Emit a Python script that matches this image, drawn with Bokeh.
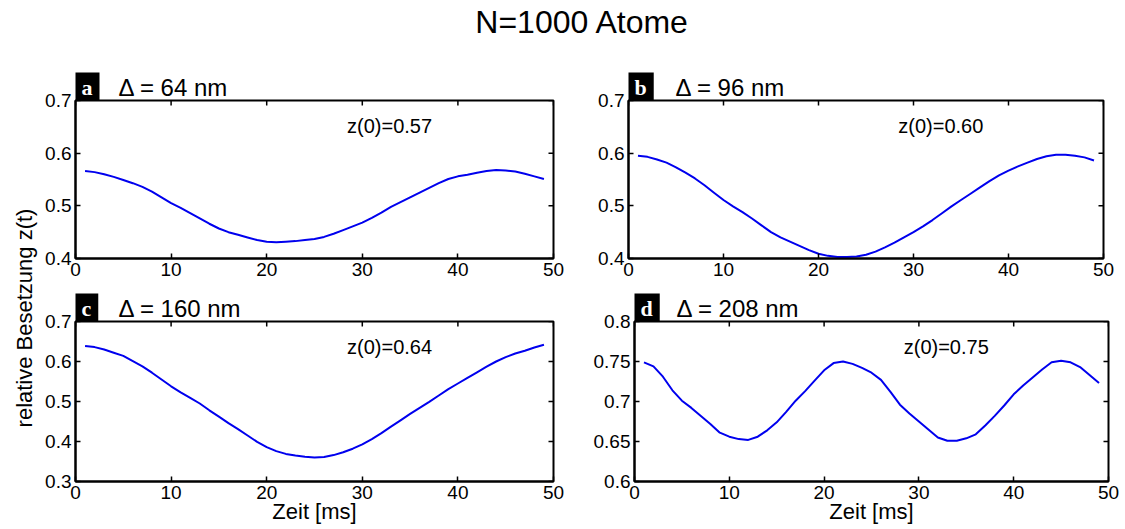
import math
from bokeh.plotting import figure
from bokeh.models import Range1d, FixedTicker, Label, ColumnDataSource
from bokeh.layouts import row, column
from bokeh.embed import file_html
from bokeh.resources import INLINE

title_text = "N=1000 Atome"
ylabel_text = "relative Besetzung z(t)"
xlabel_text = "Zeit [ms]"

t_ms = list(range(1, 50))

z_a = [0.566, 0.564, 0.560, 0.555, 0.549, 0.543, 0.536, 0.527, 0.516, 0.505,
       0.496, 0.486, 0.476, 0.466, 0.457, 0.450, 0.445, 0.440, 0.435, 0.432,
       0.431, 0.432, 0.433, 0.435, 0.437, 0.441, 0.447, 0.454, 0.461, 0.468,
       0.477, 0.487, 0.498, 0.507, 0.516, 0.525, 0.534, 0.543, 0.551, 0.556,
       0.559, 0.563, 0.566, 0.568, 0.567, 0.565, 0.561, 0.556, 0.551]

z_b = [0.595, 0.593, 0.588, 0.582, 0.573, 0.563, 0.552, 0.539, 0.525, 0.511,
       0.499, 0.488, 0.476, 0.463, 0.450, 0.440, 0.432, 0.424, 0.416, 0.409,
       0.405, 0.403, 0.403, 0.404, 0.407, 0.413, 0.421, 0.430, 0.440, 0.450,
       0.461, 0.473, 0.486, 0.499, 0.511, 0.523, 0.535, 0.547, 0.558, 0.567,
       0.575, 0.582, 0.589, 0.594, 0.597, 0.597, 0.595, 0.592, 0.586]

z_c = [0.639, 0.636, 0.630, 0.622, 0.614, 0.601, 0.588, 0.572, 0.555, 0.538,
       0.523, 0.509, 0.495, 0.478, 0.462, 0.446, 0.431, 0.415, 0.399, 0.386,
       0.376, 0.369, 0.365, 0.362, 0.360, 0.361, 0.366, 0.373, 0.382, 0.393,
       0.406, 0.421, 0.437, 0.453, 0.469, 0.484, 0.499, 0.515, 0.531, 0.545,
       0.559, 0.573, 0.587, 0.600, 0.611, 0.620, 0.627, 0.635, 0.642]

z_d = [0.749, 0.744, 0.731, 0.714, 0.701, 0.692, 0.682, 0.672, 0.661, 0.656,
       0.653, 0.652, 0.656, 0.664, 0.674, 0.687, 0.701, 0.713, 0.726, 0.739,
       0.748, 0.750, 0.747, 0.742, 0.736, 0.727, 0.712, 0.696, 0.685, 0.675,
       0.665, 0.655, 0.651, 0.651, 0.654, 0.659, 0.670, 0.682, 0.695, 0.709,
       0.720, 0.730, 0.740, 0.749, 0.751, 0.749, 0.743, 0.733, 0.723]

panel_letters = ["a", "b", "c", "d"]
panel_deltas = ["\u0394 = 64 nm", "\u0394 = 96 nm", "\u0394 = 160 nm", "\u0394 = 208 nm"]
z0_texts = ["z(0)=0.57", "z(0)=0.60", "z(0)=0.64", "z(0)=0.75"]

x_ticks = [0, 10, 20, 30, 40, 50]
x_tick_labels = ["0", "10", "20", "30", "40", "50"]
y_ticks_ab = [0.4, 0.5, 0.6, 0.7]
y_labels_ab = ["0.4", "0.5", "0.6", "0.7"]
y_ticks_c = [0.3, 0.4, 0.5, 0.6, 0.7]
y_labels_c = ["0.3", "0.4", "0.5", "0.6", "0.7"]
y_ticks_d = [0.6, 0.65, 0.7, 0.75, 0.8]
y_labels_d = ["0.6", "0.65", "0.7", "0.75", "0.8"]

FONT = "Liberation Sans"
LINE_COLOR = "#0000ee"
OVERLAP = 12


def style_axis(ax):
    ax.axis_line_color = "black"
    ax.axis_line_width = 2
    ax.major_tick_line_color = "black"
    ax.major_tick_line_width = 1.5
    ax.major_tick_in = 5
    ax.major_tick_out = 0
    ax.minor_tick_line_color = None
    ax.major_label_text_font = FONT
    ax.major_label_text_font_size = "19px"
    ax.major_label_text_color = "black"


def make_panel(z, letter, delta, z0, yticks, ylabels, width, height, head_h,
               bl, br, bb, show_xlabel, delta_offset):
    xr = Range1d(x_ticks[0], x_ticks[-1])

    # header strip above the panel: letter box and separation label
    h = figure(width=width, height=head_h, output_backend="svg", toolbar_location=None,
               title=None, x_range=xr, y_range=Range1d(0, 1),
               x_axis_type=None, y_axis_type=None,
               min_border_left=bl, min_border_right=br, min_border_top=0, min_border_bottom=0)
    h.grid.visible = False
    h.outline_line_color = None
    h.background_fill_color = "white"
    h.border_fill_color = "white"
    h.add_layout(Label(x=x_ticks[0], y=0, x_offset=-1, text=letter, text_align="left",
                       text_baseline="bottom", text_color="white",
                       text_font="Liberation Serif", text_font_style="bold",
                       text_font_size="22px", background_fill_color="black",
                       padding=dict(left=7, right=7, top=2, bottom=1)))
    h.add_layout(Label(x=x_ticks[0], y=0, x_offset=delta_offset, y_offset=0,
                       text=delta, text_align="left", text_baseline="bottom",
                       text_color="black", text_font=FONT, text_font_size="24px"))

    p = figure(width=width, height=height, output_backend="svg", toolbar_location=None,
               title=None, x_range=xr, y_range=Range1d(yticks[0], yticks[-1]),
               min_border_left=bl, min_border_right=br,
               min_border_top=OVERLAP, min_border_bottom=bb)
    p.margin = (-OVERLAP, 0, 0, 0)
    p.grid.visible = False
    p.outline_line_color = "black"
    p.outline_line_width = 2
    p.background_fill_color = "white"
    p.border_fill_color = None

    xax = p.below[0]
    yax = p.left[0]
    xax.ticker = FixedTicker(ticks=x_ticks)
    xax.major_label_overrides = {v: s for v, s in zip(x_ticks, x_tick_labels)}
    yax.ticker = FixedTicker(ticks=yticks)
    yax.major_label_overrides = {v: s for v, s in zip(yticks, ylabels)}
    style_axis(xax)
    style_axis(yax)
    xax.major_label_standoff = 4
    yax.major_label_standoff = 4

    if show_xlabel:
        xax.axis_label = xlabel_text
        xax.axis_label_text_font = FONT
        xax.axis_label_text_font_size = "22px"
        xax.axis_label_text_font_style = "normal"
        xax.axis_label_text_color = "black"
        xax.axis_label_standoff = -3

    # inward ticks on the top and right edges of the box
    ytop = yticks[-1]
    xend = x_ticks[-1]
    p.scatter(x=x_ticks, y=[ytop] * len(x_ticks), marker="dash", angle=math.pi / 2,
              size=10, line_color="black", line_width=1.5)
    p.scatter(x=[xend] * len(yticks), y=yticks, marker="dash",
              size=10, line_color="black", line_width=1.5)

    src = ColumnDataSource(dict(t=t_ms, z=z))
    p.line("t", "z", source=src, line_color=LINE_COLOR, line_width=2)

    p.add_layout(Label(x=28.4, y=ytop, y_offset=-25, text=z0, text_align="left",
                       text_baseline="middle", text_color="black", text_font=FONT,
                       text_font_size="20px"))
    return column(h, p)


pa = make_panel(z_a, panel_letters[0], panel_deltas[0], z0_texts[0], y_ticks_ab, y_labels_ab,
                549, 202, 38, 34, 37, 32, False, 43)
pb = make_panel(z_b, panel_letters[1], panel_deltas[1], z0_texts[1], y_ticks_ab, y_labels_ab,
                535, 202, 38, 38, 22, 32, False, 47)
pc = make_panel(z_c, panel_letters[2], panel_deltas[2], z0_texts[2], y_ticks_c, y_labels_c,
                549, 218, 31, 34, 37, 46, True, 43)
pd = make_panel(z_d, panel_letters[3], panel_deltas[3], z0_texts[3], y_ticks_d, y_labels_d,
                535, 218, 31, 43, 17, 46, True, 42)

# overall title
pt = figure(width=1125, height=62, output_backend="svg", toolbar_location=None,
            title=None, x_range=Range1d(0, 1125), y_range=Range1d(0, 62),
            x_axis_type=None, y_axis_type=None, min_border=0)
pt.grid.visible = False
pt.outline_line_color = None
pt.add_layout(Label(x=582, y=23, text=title_text, text_align="center",
                    text_baseline="bottom", text_font=FONT, text_font_size="32px",
                    text_color="black"))

# shared y label, drawn as the label of an otherwise empty axis
py = figure(width=41, height=465, output_backend="svg", toolbar_location=None,
            title=None, x_range=Range1d(0, 1), y_range=Range1d(0, 1),
            x_axis_type=None, min_border_left=36, min_border_right=0,
            min_border_top=46, min_border_bottom=0)
py.grid.visible = False
py.outline_line_color = None
yl = py.left[0]
yl.ticker = FixedTicker(ticks=[])
yl.axis_line_color = None
yl.major_tick_line_color = None
yl.minor_tick_line_color = None
yl.axis_label = ylabel_text
yl.axis_label_text_font = FONT
yl.axis_label_text_font_size = "22px"
yl.axis_label_text_font_style = "normal"
yl.axis_label_text_color = "black"
yl.axis_label_standoff = 0

layout = column(pt, row(py, column(row(pa, pb), row(pc, pd))))

open("out.html", "w").write(file_html(layout, INLINE))
